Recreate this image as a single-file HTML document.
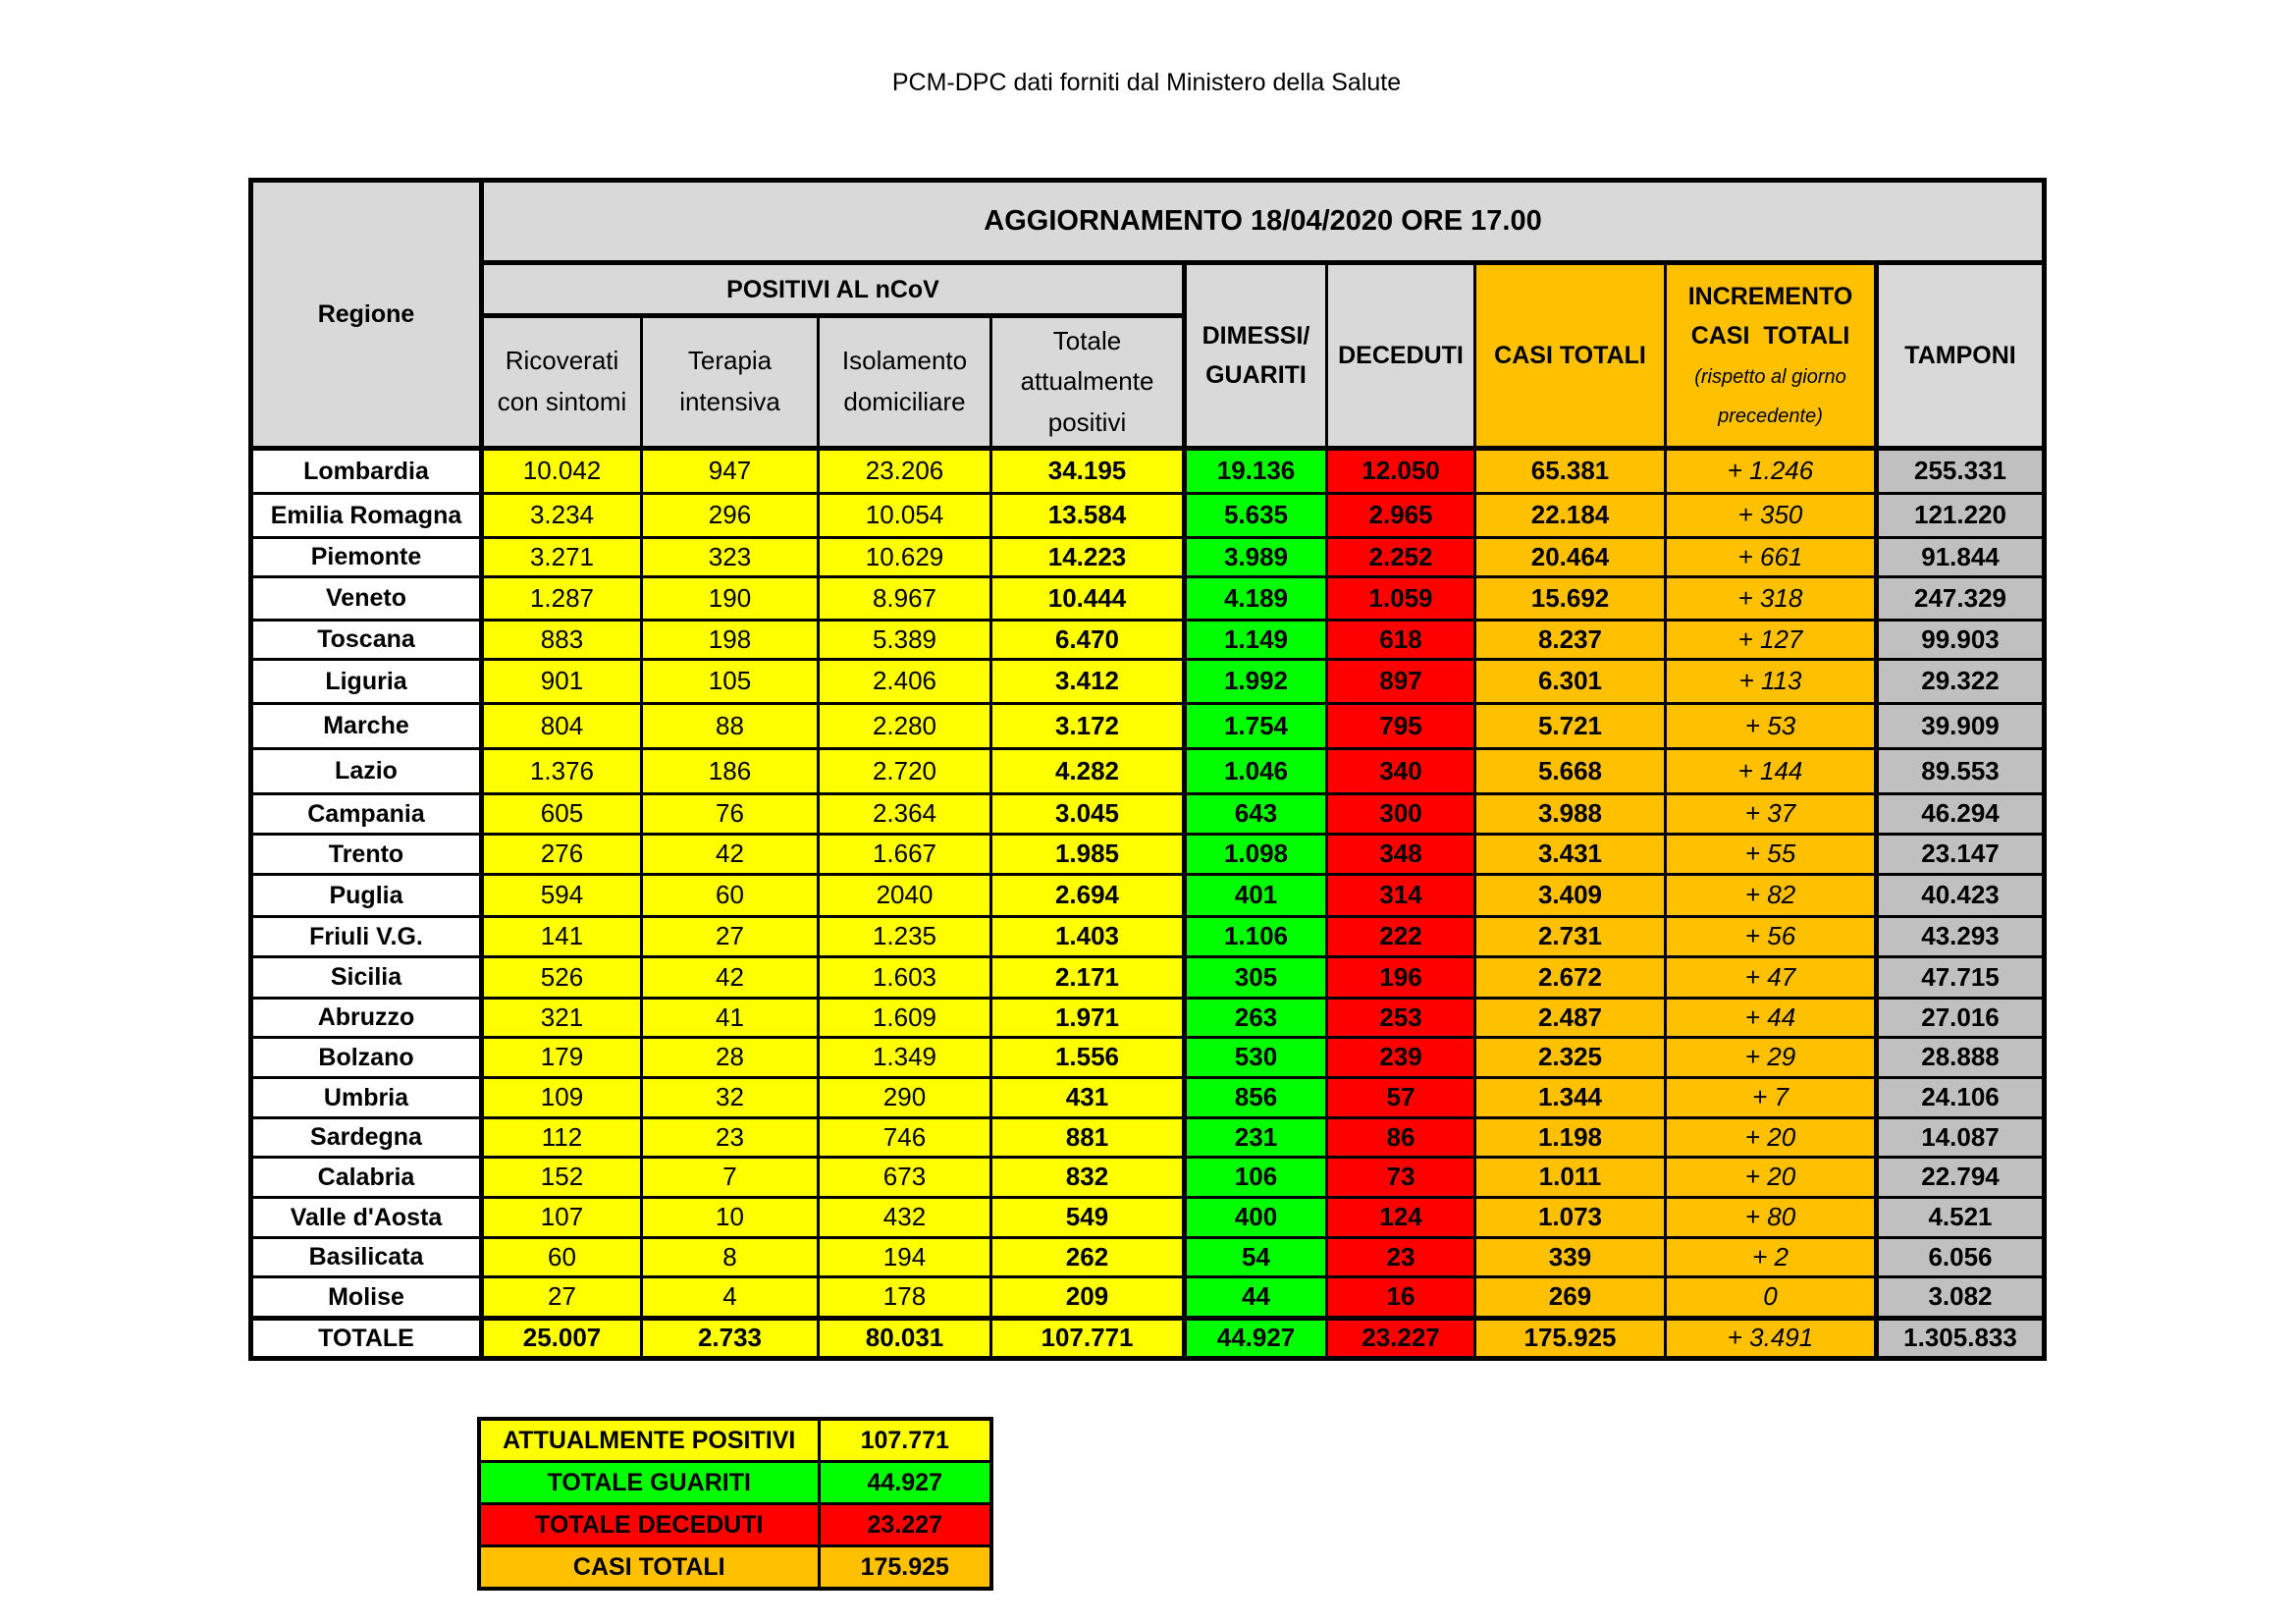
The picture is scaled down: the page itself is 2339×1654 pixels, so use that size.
<!DOCTYPE html>
<html><head><meta charset="utf-8"><style>
body{margin:0;width:2339px;height:1654px;background:#fff;position:relative;overflow:hidden;font-family:"Liberation Sans",sans-serif;}
#t{position:absolute;left:867px;top:70px;width:602px;text-align:center;font-size:25px;white-space:nowrap;}
table{border-collapse:collapse;table-layout:fixed;position:absolute;}
td{border:3px solid #000;text-align:center;vertical-align:middle;padding:0;font-size:26px;line-height:1.05;white-space:nowrap;overflow:hidden;}
#m{left:253px;top:181px;border:5px solid #000;}
.h{background:#d9d9d9;font-weight:bold;font-size:25px;line-height:1.6;}
.r{background:#fff;font-weight:bold;font-size:25px;}
.y{background:#ffff00}.g{background:#00ff00;font-weight:bold}.d{background:#ff0000;font-weight:bold}.o{background:#ffc000;font-weight:bold}
.i{background:#ffc000;font-style:italic}.s{background:#c0c0c0;font-weight:bold}.b{font-weight:bold}
.ho{background:#ffc000;font-weight:bold;font-size:25px;line-height:1.6}
.th{border-left:5px solid #000}
tr.tot td{border-top:5px solid #000;font-weight:bold}
#s{left:486px;top:1443px;border:4px solid #000;}
#s td{font-weight:bold;font-size:25px;height:40px}
</style></head><body>
<div id="t">PCM-DPC dati forniti dal Ministero della Salute</div>
<table id="m">
<colgroup><col style="width:235px"><col style="width:163px"><col style="width:180px"><col style="width:176px"><col style="width:197px"><col style="width:145px"><col style="width:151px"><col style="width:194px"><col style="width:215px"><col style="width:171px"></colgroup>
<tr style="height:84px"><td class="h" rowspan="3">Regione</td><td class="h" colspan="9" style="font-size:29px;border-left:5px solid #000;border-bottom:5px solid #000">AGGIORNAMENTO 18/04/2020 ORE 17.00</td></tr>
<tr style="height:54px"><td class="h" colspan="4" style="border-left:5px solid #000;border-bottom:5px solid #000">POSITIVI AL nCoV</td><td class="h" rowspan="2" style="border-left:5px solid #000">DIMESSI/<br>GUARITI</td><td class="h" rowspan="2">DECEDUTI</td><td class="ho" rowspan="2">CASI TOTALI</td><td class="ho" rowspan="2">INCREMENTO<br>CASI&nbsp; TOTALI<br><span style="font-weight:normal;font-style:italic;font-size:20px;line-height:1.65">(rispetto al giorno<br>precedente)</span></td><td class="h" rowspan="2" style="border-left:5px solid #000">TAMPONI</td></tr>
<tr style="height:135px"><td class="h" style="font-weight:normal;font-size:26px;border-left:5px solid #000">Ricoverati<br>con sintomi</td><td class="h" style="font-weight:normal;font-size:26px">Terapia<br>intensiva</td><td class="h" style="font-weight:normal;font-size:26px">Isolamento<br>domiciliare</td><td class="h" style="font-weight:normal;font-size:26px">Totale<br>attualmente<br>positivi</td></tr>
<tr style="height:46px;border-top:5px solid #000"><td class="r">Lombardia</td><td class="y th">10.042</td><td class="y">947</td><td class="y">23.206</td><td class="y b">34.195</td><td class="g th">19.136</td><td class="d">12.050</td><td class="o">65.381</td><td class="i">+ 1.246</td><td class="s th">255.331</td></tr>
<tr style="height:45px"><td class="r">Emilia Romagna</td><td class="y th">3.234</td><td class="y">296</td><td class="y">10.054</td><td class="y b">13.584</td><td class="g th">5.635</td><td class="d">2.965</td><td class="o">22.184</td><td class="i">+ 350</td><td class="s th">121.220</td></tr>
<tr style="height:40px"><td class="r">Piemonte</td><td class="y th">3.271</td><td class="y">323</td><td class="y">10.629</td><td class="y b">14.223</td><td class="g th">3.989</td><td class="d">2.252</td><td class="o">20.464</td><td class="i">+ 661</td><td class="s th">91.844</td></tr>
<tr style="height:44px"><td class="r">Veneto</td><td class="y th">1.287</td><td class="y">190</td><td class="y">8.967</td><td class="y b">10.444</td><td class="g th">4.189</td><td class="d">1.059</td><td class="o">15.692</td><td class="i">+ 318</td><td class="s th">247.329</td></tr>
<tr style="height:40px"><td class="r">Toscana</td><td class="y th">883</td><td class="y">198</td><td class="y">5.389</td><td class="y b">6.470</td><td class="g th">1.149</td><td class="d">618</td><td class="o">8.237</td><td class="i">+ 127</td><td class="s th">99.903</td></tr>
<tr style="height:45px"><td class="r">Liguria</td><td class="y th">901</td><td class="y">105</td><td class="y">2.406</td><td class="y b">3.412</td><td class="g th">1.992</td><td class="d">897</td><td class="o">6.301</td><td class="i">+ 113</td><td class="s th">29.322</td></tr>
<tr style="height:46px"><td class="r">Marche</td><td class="y th">804</td><td class="y">88</td><td class="y">2.280</td><td class="y b">3.172</td><td class="g th">1.754</td><td class="d">795</td><td class="o">5.721</td><td class="i">+ 53</td><td class="s th">39.909</td></tr>
<tr style="height:46px"><td class="r">Lazio</td><td class="y th">1.376</td><td class="y">186</td><td class="y">2.720</td><td class="y b">4.282</td><td class="g th">1.046</td><td class="d">340</td><td class="o">5.668</td><td class="i">+ 144</td><td class="s th">89.553</td></tr>
<tr style="height:41px"><td class="r">Campania</td><td class="y th">605</td><td class="y">76</td><td class="y">2.364</td><td class="y b">3.045</td><td class="g th">643</td><td class="d">300</td><td class="o">3.988</td><td class="i">+ 37</td><td class="s th">46.294</td></tr>
<tr style="height:41px"><td class="r">Trento</td><td class="y th">276</td><td class="y">42</td><td class="y">1.667</td><td class="y b">1.985</td><td class="g th">1.098</td><td class="d">348</td><td class="o">3.431</td><td class="i">+ 55</td><td class="s th">23.147</td></tr>
<tr style="height:43px"><td class="r">Puglia</td><td class="y th">594</td><td class="y">60</td><td class="y">2040</td><td class="y b">2.694</td><td class="g th">401</td><td class="d">314</td><td class="o">3.409</td><td class="i">+ 82</td><td class="s th">40.423</td></tr>
<tr style="height:41px"><td class="r">Friuli V.G.</td><td class="y th">141</td><td class="y">27</td><td class="y">1.235</td><td class="y b">1.403</td><td class="g th">1.106</td><td class="d">222</td><td class="o">2.731</td><td class="i">+ 56</td><td class="s th">43.293</td></tr>
<tr style="height:42px"><td class="r">Sicilia</td><td class="y th">526</td><td class="y">42</td><td class="y">1.603</td><td class="y b">2.171</td><td class="g th">305</td><td class="d">196</td><td class="o">2.672</td><td class="i">+ 47</td><td class="s th">47.715</td></tr>
<tr style="height:40px"><td class="r">Abruzzo</td><td class="y th">321</td><td class="y">41</td><td class="y">1.609</td><td class="y b">1.971</td><td class="g th">263</td><td class="d">253</td><td class="o">2.487</td><td class="i">+ 44</td><td class="s th">27.016</td></tr>
<tr style="height:41px"><td class="r">Bolzano</td><td class="y th">179</td><td class="y">28</td><td class="y">1.349</td><td class="y b">1.556</td><td class="g th">530</td><td class="d">239</td><td class="o">2.325</td><td class="i">+ 29</td><td class="s th">28.888</td></tr>
<tr style="height:41px"><td class="r">Umbria</td><td class="y th">109</td><td class="y">32</td><td class="y">290</td><td class="y b">431</td><td class="g th">856</td><td class="d">57</td><td class="o">1.344</td><td class="i">+ 7</td><td class="s th">24.106</td></tr>
<tr style="height:40px"><td class="r">Sardegna</td><td class="y th">112</td><td class="y">23</td><td class="y">746</td><td class="y b">881</td><td class="g th">231</td><td class="d">86</td><td class="o">1.198</td><td class="i">+ 20</td><td class="s th">14.087</td></tr>
<tr style="height:41px"><td class="r">Calabria</td><td class="y th">152</td><td class="y">7</td><td class="y">673</td><td class="y b">832</td><td class="g th">106</td><td class="d">73</td><td class="o">1.011</td><td class="i">+ 20</td><td class="s th">22.794</td></tr>
<tr style="height:41px"><td class="r">Valle d'Aosta</td><td class="y th">107</td><td class="y">10</td><td class="y">432</td><td class="y b">549</td><td class="g th">400</td><td class="d">124</td><td class="o">1.073</td><td class="i">+ 80</td><td class="s th">4.521</td></tr>
<tr style="height:40px"><td class="r">Basilicata</td><td class="y th">60</td><td class="y">8</td><td class="y">194</td><td class="y b">262</td><td class="g th">54</td><td class="d">23</td><td class="o">339</td><td class="i">+ 2</td><td class="s th">6.056</td></tr>
<tr style="height:42px"><td class="r">Molise</td><td class="y th">27</td><td class="y">4</td><td class="y">178</td><td class="y b">209</td><td class="g th">44</td><td class="d">16</td><td class="o">269</td><td class="i">0</td><td class="s th">3.082</td></tr>
<tr class="tot" style="height:41px"><td class="r">TOTALE</td><td class="y th">25.007</td><td class="y">2.733</td><td class="y">80.031</td><td class="y">107.771</td><td class="g th">44.927</td><td class="d">23.227</td><td class="o">175.925</td><td class="i" style="font-weight:normal">+ 3.491</td><td class="s th">1.305.833</td></tr>
</table>
<table id="s">
<colgroup><col style="width:346px"><col style="width:176px"></colgroup>
<tr><td class="y">ATTUALMENTE POSITIVI</td><td class="y">107.771</td></tr>
<tr><td class="g">TOTALE GUARITI</td><td class="g">44.927</td></tr>
<tr><td class="d">TOTALE DECEDUTI</td><td class="d">23.227</td></tr>
<tr><td class="o">CASI TOTALI</td><td class="o">175.925</td></tr>
</table>
</body></html>
